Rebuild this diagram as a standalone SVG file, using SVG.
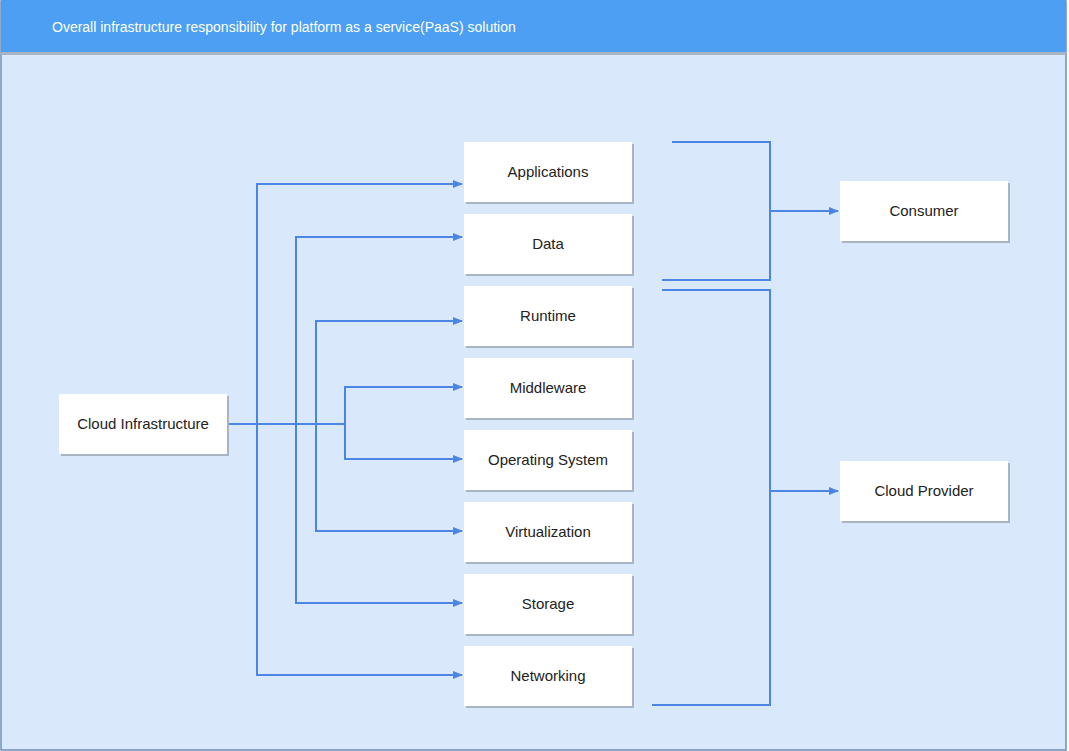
<svg xmlns="http://www.w3.org/2000/svg" width="1069" height="751" viewBox="0 0 1069 751">
<style>
.box{fill:#ffffff;}
.sh{fill:#a9b4c2;}
.lbl{font-family:"Liberation Sans",Arial,sans-serif;font-size:15px;fill:#222222;text-anchor:middle;}
.ln{fill:none;stroke:#4a86e8;stroke-width:2;}
</style>
<defs>
<marker id="ah" viewBox="0 0 10 10" refX="9" refY="5" markerWidth="5" markerHeight="5" orient="auto" markerUnits="strokeWidth">
<path d="M0,1 L10,5 L0,9 Z" fill="#4a86e8"/>
</marker>
</defs>
<rect x="0" y="0" width="1069" height="751" fill="#ffffff"/>
<rect x="1" y="1" width="1065" height="749" fill="#dae8fc" stroke="#6c8ebf" stroke-width="1.5"/>
<rect x="1" y="52" width="1065" height="3" fill="#a9b4c2"/>
<rect x="1" y="0" width="1065" height="52" fill="#4c9ff2"/>
<text x="52" y="32" font-family="'Liberation Sans',Arial,sans-serif" font-size="14" fill="#ffffff">Overall infrastructure responsibility for platform as a service(PaaS) solution</text>

<g id="connectors">
<path class="ln" d="M227,424 H257 V184 H462" marker-end="url(#ah)"/>
<path class="ln" d="M227,424 H296 V237 H462" marker-end="url(#ah)"/>
<path class="ln" d="M227,424 H316 V321 H462" marker-end="url(#ah)"/>
<path class="ln" d="M227,424 H345 V387 H462" marker-end="url(#ah)"/>
<path class="ln" d="M227,424 H345 V459 H462" marker-end="url(#ah)"/>
<path class="ln" d="M227,424 H316 V531 H462" marker-end="url(#ah)"/>
<path class="ln" d="M227,424 H296 V603 H462" marker-end="url(#ah)"/>
<path class="ln" d="M227,424 H257 V675 H462" marker-end="url(#ah)"/>
<path class="ln" d="M672,142 H770 V280 H662"/>
<path class="ln" d="M770,211 H838" marker-end="url(#ah)"/>
<path class="ln" d="M662,290 H770 V705 H652"/>
<path class="ln" d="M770,491 H838" marker-end="url(#ah)"/>
</g>

<g id="cloud-infrastructure"><rect class="sh" x="61" y="396" width="168" height="60"/><rect class="box" x="59" y="394" width="168" height="60"/><text class="lbl" x="143" y="429">Cloud Infrastructure</text></g>
<g id="applications"><rect class="sh" x="466" y="144" width="168" height="60"/><rect class="box" x="464" y="142" width="168" height="60"/><text class="lbl" x="548" y="177">Applications</text></g>
<g id="data"><rect class="sh" x="466" y="216" width="168" height="60"/><rect class="box" x="464" y="214" width="168" height="60"/><text class="lbl" x="548" y="249">Data</text></g>
<g id="runtime"><rect class="sh" x="466" y="288" width="168" height="60"/><rect class="box" x="464" y="286" width="168" height="60"/><text class="lbl" x="548" y="321">Runtime</text></g>
<g id="middleware"><rect class="sh" x="466" y="360" width="168" height="60"/><rect class="box" x="464" y="358" width="168" height="60"/><text class="lbl" x="548" y="393">Middleware</text></g>
<g id="operating-system"><rect class="sh" x="466" y="432" width="168" height="60"/><rect class="box" x="464" y="430" width="168" height="60"/><text class="lbl" x="548" y="465">Operating System</text></g>
<g id="virtualization"><rect class="sh" x="466" y="504" width="168" height="60"/><rect class="box" x="464" y="502" width="168" height="60"/><text class="lbl" x="548" y="537">Virtualization</text></g>
<g id="storage"><rect class="sh" x="466" y="576" width="168" height="60"/><rect class="box" x="464" y="574" width="168" height="60"/><text class="lbl" x="548" y="609">Storage</text></g>
<g id="networking"><rect class="sh" x="466" y="648" width="168" height="60"/><rect class="box" x="464" y="646" width="168" height="60"/><text class="lbl" x="548" y="681">Networking</text></g>
<g id="consumer"><rect class="sh" x="842" y="183" width="168" height="60"/><rect class="box" x="840" y="181" width="168" height="60"/><text class="lbl" x="924" y="216">Consumer</text></g>
<g id="cloud-provider"><rect class="sh" x="842" y="463" width="168" height="60"/><rect class="box" x="840" y="461" width="168" height="60"/><text class="lbl" x="924" y="496">Cloud Provider</text></g>
</svg>
